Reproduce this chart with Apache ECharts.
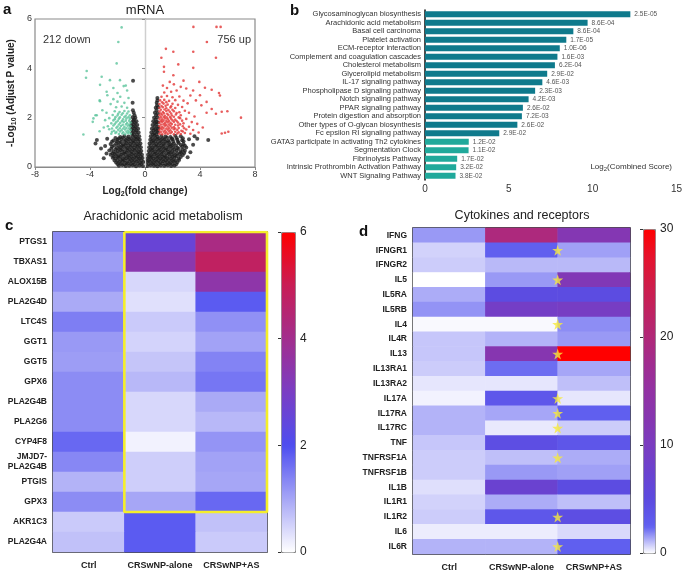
<!DOCTYPE html>
<html><head><meta charset="utf-8">
<script src="https://cdn.jsdelivr.net/npm/echarts@6/dist/echarts.min.js"></script>
<style>html,body{margin:0;padding:0;background:#fff}#c{width:685px;height:572px}</style>
</head><body><div id="c"></div>
<script>
const FONT = 'Arial, "Liberation Sans", sans-serif';
// ---------- panel a: volcano ----------
const volcanoBlack = [
[-0.15,0.04],[-0.4,0.06],[-0.65,0.03],[-0.9,0.07],[-1.15,0.05],[-1.4,0.04],[-1.65,0.08],[-1.9,0.05],
[-0.12,0.2],[-0.35,0.18],[-0.6,0.22],[-0.85,0.19],[-1.1,0.21],[-1.35,0.17],[-1.6,0.23],[-1.85,0.2],[-2.1,0.18],
[-0.18,0.36],[-0.4,0.34],[-0.62,0.37],[-0.88,0.33],[-1.12,0.36],[-1.38,0.35],[-1.62,0.32],[-1.9,0.37],[-2.15,0.34],[-2.35,0.38],
[-0.22,0.5],[-0.45,0.52],[-0.7,0.49],[-0.95,0.51],[-1.2,0.48],[-1.45,0.53],[-1.7,0.5],[-1.95,0.47],[-2.2,0.52],[-2.5,0.5],
[-0.27,0.65],[-0.5,0.63],[-0.75,0.67],[-1.0,0.64],[-1.25,0.66],[-1.5,0.62],[-1.75,0.68],[-2.0,0.65],[-2.3,0.63],[-2.6,0.67],
[-0.3,0.8],[-0.55,0.82],[-0.8,0.79],[-1.05,0.81],[-1.3,0.78],[-1.55,0.83],[-1.8,0.8],[-2.05,0.77],[-2.4,0.82],
[-0.33,0.95],[-0.58,0.93],[-0.82,0.97],[-1.08,0.94],[-1.35,0.96],[-1.6,0.92],[-1.85,0.98],[-2.1,0.95],[-2.5,0.93],
[-0.38,1.1],[-0.62,1.12],[-0.88,1.08],[-1.15,1.11],[-1.4,1.09],[-1.7,1.13],[-2.0,1.1],[-2.3,1.07],
[-0.42,1.25],[-0.68,1.23],[-0.92,1.27],[-1.2,1.24],[-1.5,1.26],[-1.8,1.22],
[-0.46,1.4],[-0.7,1.42],[-0.95,1.38],[-0.5,1.55],[-0.75,1.57],[-0.98,1.53],
[-0.56,1.7],[-0.8,1.72],[-1.0,1.68],[-0.62,1.85],[-0.86,1.87],[-0.7,2.0],[-0.9,2.02],
[-0.82,2.2],[-0.9,2.6],[-0.87,3.5],
[-2.9,0.85],[-2.8,0.55],[-3.2,0.75],[-3.5,1.09],[-3.6,0.95],[-2.75,1.15],[-3.0,0.35],
[-0.27,0.12],[-0.52,0.13],[-0.77,0.11],[-1.02,0.12],[-1.27,0.14],[-1.52,0.11],[-1.77,0.13],[-2.0,0.12],
[-0.25,0.27],[-0.48,0.28],[-0.73,0.26],[-0.98,0.27],[-1.23,0.29],[-1.48,0.26],[-1.73,0.28],[-1.98,0.27],[-2.22,0.26],
[-0.3,0.42],[-0.52,0.43],[-0.77,0.41],[-1.0,0.42],[-1.25,0.44],[-1.5,0.41],[-1.77,0.43],[-2.02,0.42],[-2.28,0.44],
[-0.35,0.57],[-0.58,0.58],[-0.82,0.56],[-1.08,0.57],[-1.33,0.59],[-1.58,0.56],[-1.83,0.58],[-2.1,0.57],[-2.38,0.56],
[-0.4,0.72],[-0.63,0.73],[-0.88,0.71],[-1.13,0.72],[-1.38,0.74],[-1.63,0.71],[-1.88,0.73],[-2.15,0.72],[-2.45,0.74],
[-0.43,0.87],[-0.68,0.88],[-0.93,0.86],[-1.18,0.87],[-1.43,0.89],[-1.68,0.86],[-1.95,0.88],[-2.25,0.87],
[-0.47,1.02],[-0.72,1.03],[-0.95,1.01],[-1.22,1.02],[-1.48,1.04],[-1.75,1.01],[-2.05,1.03],[-2.4,1.02],
[-0.52,1.17],[-0.77,1.18],[-1.02,1.16],[-1.3,1.17],[-1.6,1.19],[-1.9,1.16],[-2.15,1.18],
[-0.58,1.32],[-0.83,1.33],[-0.62,1.48],[-0.87,1.47],[-0.68,1.62],[-0.9,1.63],[-0.72,1.78],[-0.95,1.8],[-0.8,1.93],[-0.76,2.1],[-0.88,2.3],
[0.15,0.04],[0.4,0.07],[0.65,0.05],[0.9,0.03],[1.15,0.06],[1.4,0.05],[1.65,0.07],[1.9,0.04],[2.15,0.06],
[0.12,0.2],[0.35,0.22],[0.6,0.18],[0.85,0.21],[1.1,0.19],[1.35,0.23],[1.6,0.2],[1.85,0.18],[2.1,0.22],[2.35,0.19],
[0.18,0.35],[0.4,0.37],[0.62,0.33],[0.88,0.36],[1.12,0.34],[1.38,0.38],[1.62,0.35],[1.9,0.33],[2.15,0.37],[2.45,0.34],
[0.22,0.5],[0.45,0.48],[0.7,0.52],[0.95,0.49],[1.2,0.51],[1.45,0.47],[1.7,0.53],[1.95,0.5],[2.2,0.48],[2.5,0.52],[2.75,0.49],
[0.27,0.65],[0.5,0.67],[0.75,0.63],[1.0,0.66],[1.25,0.64],[1.5,0.68],[1.75,0.62],[2.0,0.65],[2.3,0.67],[2.6,0.63],[2.9,0.66],
[0.3,0.8],[0.55,0.78],[0.8,0.82],[1.05,0.79],[1.3,0.81],[1.55,0.77],[1.8,0.83],[2.05,0.8],[2.35,0.78],[2.7,0.82],[3.0,0.79],
[0.33,0.95],[0.58,0.97],[0.82,0.93],[1.08,0.96],[1.35,0.94],[1.6,0.98],[1.85,0.92],[2.1,0.95],[2.45,0.97],[2.8,0.93],
[0.38,1.1],[0.62,1.08],[0.88,1.12],[1.15,1.09],[1.4,1.11],[1.7,1.07],[2.0,1.13],[2.35,1.1],[2.7,1.08],[3.2,1.12],
[0.42,1.25],[0.68,1.27],[0.92,1.23],[1.2,1.26],[1.5,1.24],[1.85,1.22],[2.2,1.27],[2.6,1.25],
[0.46,1.4],[0.7,1.38],[0.94,1.42],[0.5,1.55],[0.75,1.53],[0.97,1.57],[0.55,1.7],[0.8,1.72],
[0.6,1.85],[0.85,1.83],[0.66,2.0],[0.9,2.02],[0.72,2.2],[0.93,2.18],[0.78,2.4],[0.95,2.42],[0.85,2.6],[0.9,2.8],
[4.6,1.09],[3.5,0.9],[3.8,1.15],[3.3,0.6],[3.6,1.25],[3.1,0.4],
[0.27,0.12],[0.52,0.13],[0.77,0.11],[1.02,0.12],[1.27,0.14],[1.52,0.11],[1.77,0.13],[2.02,0.12],[2.27,0.11],
[0.25,0.27],[0.48,0.28],[0.73,0.26],[0.98,0.27],[1.23,0.29],[1.48,0.26],[1.73,0.28],[1.98,0.27],[2.22,0.26],[2.48,0.28],
[0.3,0.42],[0.52,0.43],[0.77,0.41],[1.0,0.42],[1.25,0.44],[1.5,0.41],[1.77,0.43],[2.02,0.42],[2.3,0.44],[2.6,0.41],
[0.35,0.57],[0.58,0.58],[0.82,0.56],[1.08,0.57],[1.33,0.59],[1.58,0.56],[1.83,0.58],[2.1,0.57],[2.35,0.56],[2.62,0.58],[2.85,0.57],
[0.4,0.72],[0.63,0.73],[0.88,0.71],[1.13,0.72],[1.38,0.74],[1.63,0.71],[1.88,0.73],[2.15,0.72],[2.45,0.74],[2.75,0.71],
[0.43,0.87],[0.68,0.88],[0.93,0.86],[1.18,0.87],[1.43,0.89],[1.68,0.86],[1.95,0.88],[2.25,0.87],[2.6,0.89],[2.9,0.86],
[0.47,1.02],[0.72,1.03],[0.95,1.01],[1.22,1.02],[1.48,1.04],[1.75,1.01],[2.05,1.03],[2.4,1.02],[2.8,1.04],
[0.52,1.17],[0.77,1.18],[1.02,1.16],[1.3,1.17],[1.6,1.19],[1.95,1.16],[2.3,1.18],[2.75,1.17],
[0.58,1.32],[0.83,1.33],[0.62,1.48],[0.87,1.47],[0.68,1.62],[0.92,1.63],[0.72,1.78],[0.95,1.8],[0.78,1.93],[0.8,2.1],[0.84,2.3],[0.88,2.5],[0.9,2.7]
];
const volcanoDown = [
[-1.05,1.35],[-1.25,1.37],[-1.45,1.33],[-1.65,1.36],[-1.9,1.34],[-2.15,1.38],[-2.45,1.35],
[-1.05,1.5],[-1.25,1.48],[-1.45,1.52],[-1.7,1.49],[-1.95,1.51],[-2.25,1.47],[-2.6,1.53],
[-1.05,1.65],[-1.25,1.67],[-1.5,1.63],[-1.75,1.66],[-2.0,1.64],[-2.3,1.68],[-2.7,1.65],
[-1.05,1.8],[-1.3,1.78],[-1.55,1.82],[-1.8,1.79],[-2.1,1.81],[-2.45,1.77],
[-1.1,1.95],[-1.35,1.97],[-1.6,1.93],[-1.9,1.96],[-2.2,1.94],[-2.6,1.98],
[-1.1,2.1],[-1.4,2.08],[-1.7,2.12],[-2.0,2.09],[-2.35,2.11],
[-1.2,2.25],[-1.5,2.27],[-1.85,2.23],[-2.2,2.26],[-2.8,2.2],
[-1.3,2.4],[-1.7,2.45],[-2.1,2.42],[-1.5,2.6],[-2.0,2.65],[-2.5,2.55],[-1.2,2.8],[-1.8,2.85],[-2.3,2.75],
[-1.15,1.42],[-1.35,1.43],[-1.58,1.41],[-1.82,1.44],[-2.08,1.42],[-2.4,1.43],
[-1.15,1.57],[-1.35,1.58],[-1.58,1.56],[-1.82,1.57],[-2.08,1.59],[-2.4,1.56],
[-1.15,1.72],[-1.38,1.73],[-1.62,1.71],[-1.9,1.72],[-2.2,1.74],
[-1.15,1.87],[-1.4,1.88],[-1.68,1.86],[-1.98,1.87],[-2.3,1.89],
[-1.2,2.02],[-1.5,2.03],[-1.82,2.01],[-2.15,2.02],[-1.3,2.17],[-1.62,2.18],[-1.95,2.16],
[-1.7,5.66],[-1.94,5.07],[-2.06,4.2],[-4.24,3.89],[-4.29,3.62],[-3.15,3.66],[-2.55,3.52],[-1.82,3.52],
[-1.4,3.3],[-1.55,3.28],[-3.27,3.33],[-2.74,2.91],[-3.27,2.67],[-4.48,1.32],[-3.8,1.83],[-3.75,1.97],
[-3.51,2.1],[-3.3,2.7],[-2.3,3.2],[-2.79,3.05],[-3.6,2.1],[-3.0,1.6],[-3.3,1.45],[-2.9,1.9],[-3.1,2.3],
[-1.3,3.1],[-2.0,3.0]
];
const volcanoUp = [
[1.05,1.35],[1.25,1.33],[1.45,1.36],[1.65,1.34],[1.85,1.37],[2.1,1.33],[2.35,1.36],[2.6,1.34],[2.9,1.38],[3.3,1.35],
[1.05,1.5],[1.25,1.52],[1.45,1.48],[1.65,1.51],[1.85,1.49],[2.1,1.53],[2.35,1.5],[2.65,1.47],[3.0,1.52],[3.5,1.5],
[1.05,1.65],[1.25,1.63],[1.45,1.67],[1.65,1.64],[1.85,1.66],[2.1,1.62],[2.4,1.68],[2.75,1.65],[3.2,1.63],
[1.05,1.8],[1.25,1.82],[1.45,1.78],[1.65,1.81],[1.85,1.79],[2.1,1.83],[2.4,1.8],[2.8,1.77],[3.4,1.82],
[1.05,1.95],[1.25,1.93],[1.45,1.97],[1.65,1.94],[1.9,1.96],[2.2,1.92],[2.55,1.98],[3.0,1.95],
[1.05,2.1],[1.25,2.12],[1.45,2.08],[1.7,2.11],[1.95,2.09],[2.25,2.13],[2.6,2.1],[3.6,2.05],
[1.05,2.25],[1.3,2.23],[1.55,2.27],[1.8,2.24],[2.1,2.26],[2.5,2.22],[2.9,2.28],
[1.05,2.4],[1.3,2.42],[1.55,2.38],[1.85,2.41],[2.2,2.39],[2.7,2.43],
[1.05,2.55],[1.35,2.57],[1.65,2.53],[2.0,2.56],[2.4,2.52],[3.1,2.58],
[1.1,2.7],[1.4,2.72],[1.75,2.68],[2.2,2.71],[2.8,2.69],
[1.2,2.85],[1.6,2.88],[2.0,2.83],[2.5,2.86],[3.3,2.9],
[1.15,1.42],[1.35,1.43],[1.55,1.41],[1.75,1.44],[1.95,1.42],[2.2,1.43],[2.45,1.41],[2.75,1.44],
[1.15,1.57],[1.35,1.58],[1.55,1.56],[1.75,1.57],[1.95,1.59],[2.2,1.56],[2.45,1.58],[2.85,1.57],
[1.15,1.72],[1.35,1.73],[1.55,1.71],[1.75,1.72],[1.95,1.74],[2.2,1.71],[2.55,1.73],
[1.15,1.87],[1.35,1.88],[1.55,1.86],[1.75,1.87],[2.0,1.89],[2.3,1.86],[2.7,1.88],
[1.15,2.02],[1.35,2.03],[1.58,2.01],[1.82,2.02],[2.1,2.04],[2.45,2.01],
[1.15,2.17],[1.38,2.18],[1.62,2.16],[1.9,2.17],[2.3,2.19],
[1.15,2.32],[1.42,2.33],[1.7,2.31],[2.0,2.32],[1.2,2.47],[1.5,2.48],[1.9,2.46],[1.25,2.62],[1.55,2.63],
[1.4,3.02],[1.9,3.05],[2.3,3.1],[1.6,3.2],[2.6,3.25],[3.0,3.18],[1.3,3.3],[2.1,3.35],[3.5,3.1],[1.8,3.45],[2.8,3.5],
[3.52,5.68],[5.2,5.68],[5.5,5.68],[4.5,5.07],[1.52,4.79],[2.06,4.67],[3.51,4.67],[5.16,4.43],[1.19,4.43],
[1.38,4.06],[2.42,4.16],[3.51,4.02],[1.38,3.86],[2.06,3.72],[3.95,3.45],[4.36,3.21],[4.85,3.13],[5.38,3.0],
[5.45,2.9],[4.0,2.91],[4.48,2.64],[4.85,2.35],[4.48,2.2],[5.58,2.24],[5.99,2.26],[5.16,2.16],[6.98,2.0],
[5.58,1.36],[5.82,1.39],[6.06,1.43],[4.2,1.6],[3.8,1.75],[4.1,2.5],[3.7,2.7],[3.2,2.2],[3.9,1.4]
];
const downLabel = '212 down';
const upLabel = '756 up';

// ---------- panel b: enrichment ----------
const pathways = ['Glycosaminoglycan biosynthesis','Arachidonic acid metabolism','Basal cell carcinoma','Platelet activation',
'ECM-receptor interaction','Complement and coagulation cascades','Cholesterol metabolism','Glycerolipid metabolism',
'IL-17 signaling pathway','Phospholipase D signaling pathway','Notch signaling pathway','PPAR signaling pathway',
'Protein digestion and absorption','Other types of O-glycan biosynthesis','Fc epsilon RI signaling pathway',
'GATA3 participate in activating Th2 cytokines','Segmentation Clock','Fibrinolysis Pathway',
'Intrinsic Prothrombin Activation Pathway','WNT Signaling Pathway'];
const combinedScore = [12.25,9.7,8.85,8.43,8.04,7.9,7.75,7.29,7.0,6.57,6.18,5.84,5.78,5.51,4.43,2.61,2.6,1.92,1.86,1.82];
const pValues = ['2.5E-05','8.6E-04','8.6E-04','1.7E-05','1.0E-06','1.6E-03','6.2E-04','2.9E-02','4.6E-03','2.3E-03',
'4.2E-03','2.6E-02','7.2E-03','2.6E-02','2.9E-02','1.2E-02','1.1E-02','1.7E-02','3.2E-02','3.8E-02'];
const pathwayDb = ['KEGG','KEGG','KEGG','KEGG','KEGG','KEGG','KEGG','KEGG','KEGG','KEGG','KEGG','KEGG','KEGG','KEGG','KEGG',
'Wiki','Wiki','Wiki','Wiki','Wiki'];

// ---------- panel c / d heatmaps ----------
const groups = ['Ctrl','CRSwNP-alone','CRSwNP+AS'];
const aaGenes = ['PTGS1','TBXAS1','ALOX15B','PLA2G4D','LTC4S','GGT1','GGT5','GPX6','PLA2G4B','PLA2G6','CYP4F8',
'JMJD7-\nPLA2G4B','PTGIS','GPX3','AKR1C3','PLA2G4A'];
const aaCtrl  = [1.3,1.1,1.25,0.95,1.45,1.15,1.1,1.3,1.3,1.3,1.7,1.35,0.85,1.3,0.6,0.7];
const aaAlone = [2.6,3.4,0.45,0.35,0.6,0.5,0.65,0.8,0.45,0.45,0.15,0.55,0.55,1.0,1.85,1.85];
const aaAS    = [4.2,4.8,3.5,1.85,1.25,1.05,1.4,1.55,0.95,0.8,1.2,1.05,1.0,1.7,0.7,0.6];
const aaBoxRows = ['PTGS1','GPX3'];
const aaBoxCols = ['CRSwNP-alone','CRSwNP+AS'];
const aaTicks = [0,2,4,6];

const ckGenes = ['IFNG','IFNGR1','IFNGR2','IL5','IL5RA','IL5RB','IL4','IL4R','IL13','IL13RA1','IL13RA2','IL17A','IL17RA',
'IL17RC','TNF','TNFRSF1A','TNFRSF1B','IL1B','IL1R1','IL1R2','IL6','IL6R'];
const ckCtrl  = [1.6,0.7,0.8,0.0,1.3,1.7,0.1,0.9,0.9,0.8,0.4,0.2,1.2,1.2,0.9,0.8,0.8,0.5,0.7,0.8,0.3,1.2];
const ckAlone = [19.5,2.6,1.1,1.6,4.8,9.0,0.1,1.2,12.5,2.3,0.4,3.5,1.4,0.35,4.5,1.0,1.6,7.5,1.3,3.5,0.3,1.2];
const ckAS    = [12,1.5,1.1,11.5,4.8,9.5,1.8,1.6,30,1.4,1.0,0.4,2.6,0.8,3.6,1.3,1.5,4.8,1.0,4.5,0.6,2.6];
const ckStarred = ['IFNGR1','IL5','IL4','IL13','IL17A','IL17RA','IL17RC','TNFRSF1A','IL1R2','IL6R'];
const ckTicks = [0,10,20,30];

// ---------- build ----------
function heat(genes, a, b, c){ const d=[]; genes.forEach((g,i)=>{d.push([0,i,a[i]],[1,i,b[i]],[2,i,c[i]]);}); return d; }
const aaData = heat(aaGenes, aaCtrl, aaAlone, aaAS);
const ckData = heat(ckGenes, ckCtrl, ckAlone, ckAS);
const r0 = aaGenes.indexOf(aaBoxRows[0]), r1 = aaGenes.indexOf(aaBoxRows[1]) + 1;
const c0 = groups.indexOf(aaBoxCols[0]), c1 = groups.indexOf(aaBoxCols[1]) + 1;
const boxPath = [[c0,r0],[c1,r0],[c1,r1],[c0,r1],[c0,r0]];
const starData = ckStarred.map(g => [2, ckGenes.indexOf(g) + 0.5]);
const STAR = 'path://M50,0 L61,35 L98,35 L68,57 L79,91 L50,70 L21,91 L32,57 L2,35 L39,35 Z';

const G = {
  volcano: {left:35, top:19, width:220, height:148},
  bars: {left:425, top:10, width:255, height:170},
  aa: {left:53, top:232, width:214, height:320},
  ck: {left:413, top:228, width:217, height:326},
  aaBar: {left:281, top:232, width:14, height:320},
  ckBar: {left:643, top:229, width:12, height:324}
};
const tx = {fontFamily: FONT};
const hidden = {show:false};

const option = {
  animation:false,
  textStyle: tx,
  grid: [
    Object.assign({show:true, borderColor:'#8a8a8a', borderWidth:1.2}, G.volcano),
    G.bars,
    Object.assign({show:true, borderColor:'#111', borderWidth:1.5}, G.aa),
    G.aa,
    Object.assign({show:true, borderColor:'#111', borderWidth:1.5}, G.ck),
    G.ck,
    G.aaBar, G.ckBar
  ],
  xAxis: [
    {gridIndex:0, type:'value', min:-8, max:8, interval:4, splitLine:hidden,
     axisLine:{lineStyle:{color:'#8a8a8a', width:1.2}}, axisTick:{lineStyle:{color:'#8a8a8a'}, length:3},
     axisLabel:{fontSize:9, color:'#333', margin:3},
     name:'Log{s|2}(fold change)', nameLocation:'middle', nameGap:18,
     nameTextStyle:{fontSize:10, fontWeight:'bold', color:'#222', rich:{s:{fontSize:7, fontWeight:'bold', padding:[6,0,0,0]}}}},
    {gridIndex:1, type:'value', min:0, max:15, interval:5, splitLine:hidden,
     axisLine:{lineStyle:{color:'#111', width:1.5}}, axisTick:{lineStyle:{color:'#111'}, length:3},
     axisLabel:{fontSize:10, color:'#333', margin:4}},
    {gridIndex:2, type:'category', data:groups, axisLine:hidden, axisTick:hidden,
     axisLabel:{interval:0, fontSize:9, fontWeight:'bold', color:'#222', margin:9}},
    {gridIndex:3, type:'value', min:0, max:3, show:false},
    {gridIndex:4, type:'category', data:groups, axisLine:hidden, axisTick:hidden,
     axisLabel:{interval:0, fontSize:9, fontWeight:'bold', color:'#222', margin:9}},
    {gridIndex:5, type:'value', min:0, max:3, show:false},
    {gridIndex:6, type:'value', min:0, max:1, show:false},
    {gridIndex:7, type:'value', min:0, max:1, show:false}
  ],
  yAxis: [
    {gridIndex:0, type:'value', min:0, max:6, interval:2, splitLine:hidden,
     axisLine:{lineStyle:{color:'#8a8a8a', width:1.2}}, axisTick:{lineStyle:{color:'#8a8a8a'}, length:3},
     axisLabel:{fontSize:9, color:'#333', margin:3},
     name:'-Log{s|10} (Adjust P value)', nameLocation:'middle', nameGap:17,
     nameTextStyle:{fontSize:10, fontWeight:'bold', color:'#222', rich:{s:{fontSize:7, fontWeight:'bold', padding:[6,0,0,0]}}}},
    {gridIndex:1, type:'category', data:pathways, inverse:true,
     axisLine:{lineStyle:{color:'#111', width:1.5}}, axisTick:{alignWithLabel:true, interval:0, length:3, lineStyle:{color:'#111'}},
     axisLabel:{interval:0, fontSize:7.5, color:'#333', margin:4}},
    {gridIndex:2, type:'category', data:aaGenes, inverse:true, axisLine:hidden, axisTick:hidden,
     axisLabel:{interval:0, fontSize:8.5, fontWeight:'bold', color:'#222', margin:6, lineHeight:10}},
    {gridIndex:3, type:'value', min:0, max:aaGenes.length, inverse:true, show:false},
    {gridIndex:4, type:'category', data:ckGenes, inverse:true, axisLine:hidden, axisTick:hidden,
     axisLabel:{interval:0, fontSize:8.5, fontWeight:'bold', color:'#222', margin:6}},
    {gridIndex:5, type:'value', min:0, max:ckGenes.length, inverse:true, show:false},
    {gridIndex:6, type:'value', min:aaTicks[0], max:aaTicks[aaTicks.length-1], interval:2, position:'right', splitLine:hidden,
     axisLine:hidden, axisTick:{show:true, inside:true, length:3, lineStyle:{color:'#333'}},
     axisLabel:{fontSize:12, color:'#222', margin:5}},
    {gridIndex:7, type:'value', min:ckTicks[0], max:ckTicks[ckTicks.length-1], interval:10, position:'right', splitLine:hidden,
     axisLine:hidden, axisTick:{show:true, inside:true, length:3, lineStyle:{color:'#333'}},
     axisLabel:{fontSize:12, color:'#222', margin:5}}
  ],
  visualMap: [
    {type:'continuous', seriesIndex:4, min:0, max:6, calculable:false, orient:'vertical',
     left:G.aaBar.left, top:G.aaBar.top, itemWidth:G.aaBar.width, itemHeight:G.aaBar.height, padding:0,
     borderColor:'#888', borderWidth:1, showLabel:false, text:null,
     inRange:{color:['#ffffff','#a6a6f6','#4e4ef0','#7a3ec4','#a22e8e','#c81e56','#ff0000']}},
    {type:'continuous', seriesIndex:6, min:0, max:30, calculable:false, orient:'vertical',
     left:G.ckBar.left, top:G.ckBar.top, itemWidth:G.ckBar.width, itemHeight:G.ckBar.height, padding:0,
     borderColor:'#888', borderWidth:1, showLabel:false, text:null,
     inRange:{color:['#ffffff','#6060f0','#5c4ae0','#6a42d0','#7a3cc0','#8636b0','#9232a4','#a02c90','#b02878','#c02260','#d01c48','#e6122c','#ff0000']}}
  ],
  series: [
    {type:'scatter', xAxisIndex:0, yAxisIndex:0, data:volcanoBlack, symbolSize:4, itemStyle:{color:'#1e1e1e'},
     markLine:{silent:true, symbol:'none', label:{show:false}, lineStyle:{color:'#cfcfcf', width:1, type:'solid'}, data:[{xAxis:0}]}},
    {type:'scatter', xAxisIndex:0, yAxisIndex:0, data:volcanoDown, symbolSize:2.6, itemStyle:{color:'#5cc49c'}},
    {type:'scatter', xAxisIndex:0, yAxisIndex:0, data:volcanoUp, symbolSize:2.6, itemStyle:{color:'#e23636'}},
    {type:'bar', xAxisIndex:1, yAxisIndex:1, barWidth:6,
     data: combinedScore.map((v,i)=>({value:v, itemStyle:{color: pathwayDb[i]==='KEGG' ? '#0f7a8c' : '#20a99b'}})),
     label:{show:true, position:'right', distance:4, fontSize:6.5, color:'#555',
            formatter:(p)=>pValues[p.dataIndex]}},
    {type:'heatmap', xAxisIndex:2, yAxisIndex:2, data:aaData, itemStyle:{borderWidth:0}},
    {type:'line', xAxisIndex:3, yAxisIndex:3, data:boxPath, symbol:'none', silent:true,
     lineStyle:{color:'#f4ee2c', width:2.6}, z:10},
    {type:'heatmap', xAxisIndex:4, yAxisIndex:4, data:ckData, itemStyle:{borderWidth:0}},
    {type:'scatter', xAxisIndex:5, yAxisIndex:5, data:starData, symbol:STAR, symbolSize:11,
     itemStyle:{color:'#f6ea3c'}, z:10}
  ],
  graphic: [
    {type:'text', left:3, top:2, style:{text:'a', font:'bold 15px '+FONT, fill:'#111'}},
    {type:'text', left:290, top:3, style:{text:'b', font:'bold 15px '+FONT, fill:'#111'}},
    {type:'text', left:5, top:218, style:{text:'c', font:'bold 15px '+FONT, fill:'#111'}},
    {type:'text', left:359, top:224, style:{text:'d', font:'bold 15px '+FONT, fill:'#111'}},
    {type:'text', x:145, y:10, style:{text:'mRNA', font:'13px '+FONT, fill:'#222', textAlign:'center', textVerticalAlign:'middle'}},
    {type:'text', x:43, y:40, style:{text:downLabel, font:'11px '+FONT, fill:'#333', textVerticalAlign:'middle'}},
    {type:'text', x:251, y:40, style:{text:upLabel, font:'11px '+FONT, fill:'#333', textAlign:'right', textVerticalAlign:'middle'}},
    {type:'text', x:672, y:167, style:{text:'Log{s|2}(Combined Score)', rich:{s:{fontSize:6, padding:[5,0,0,0]}}, font:'8px '+FONT, fill:'#333', textAlign:'right', textVerticalAlign:'middle'}},
    {type:'text', x:163, y:217, style:{text:'Arachidonic acid metabolism', font:'12.5px '+FONT, fill:'#222', textAlign:'center', textVerticalAlign:'middle'}},
    {type:'text', x:522, y:216, style:{text:'Cytokines and receptors', font:'12.5px '+FONT, fill:'#222', textAlign:'center', textVerticalAlign:'middle'}}
  ]
};
const chart = echarts.init(document.getElementById('c'), null, {renderer:'canvas'});
chart.setOption(option);
</script></body></html>
